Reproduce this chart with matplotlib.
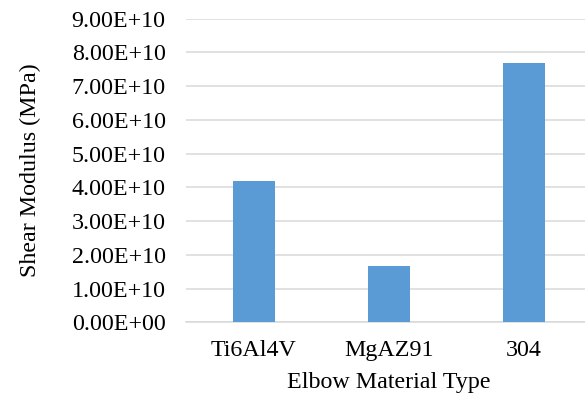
import numpy as np
import matplotlib.pyplot as plt

plt.rcParams['font.family'] = ['Liberation Serif', 'DejaVu Serif']

# Shear modulus per elbow material
materials = ['Ti6Al4V', 'MgAZ91', '304']
shear_modulus = [4.18e10, 1.67e10, 7.69e10]
y_ticks = np.arange(0, 10) * 1e10

fig = plt.figure(figsize=(5.85, 3.99), dpi=100)
ax = fig.add_axes([0.3188, 0.1922, 0.6923, 0.7614])

x = np.arange(len(materials))
ax.bar(x, shear_modulus, width=0.31, color='#5B9BD5', zorder=3)

ax.set_xlim(-0.5, len(materials) - 0.5)
ax.set_ylim(0, 9e10)
ax.set_yticks(y_ticks)
ax.set_yticklabels(['{:.2E}'.format(v) for v in y_ticks])
ax.set_xticks(x)
ax.set_xticklabels(materials)

ax.grid(axis='y', color='#d9d9d9', linewidth=1.1, zorder=0)
for s in ['top', 'right', 'left']:
    ax.spines[s].set_visible(False)
ax.spines['bottom'].set_color('#d9d9d9')
ax.spines['bottom'].set_linewidth(1.1)
ax.tick_params(axis='both', length=0, labelsize=17.3, colors='black')
ax.tick_params(axis='y', pad=15)
ax.tick_params(axis='x', pad=13)

ax.set_xlabel('Elbow Material Type', fontsize=17.3, labelpad=8)
ax.set_ylabel('Shear Modulus (MPa)', fontsize=17.3, labelpad=22)

fig.savefig('out.png', dpi=100)
